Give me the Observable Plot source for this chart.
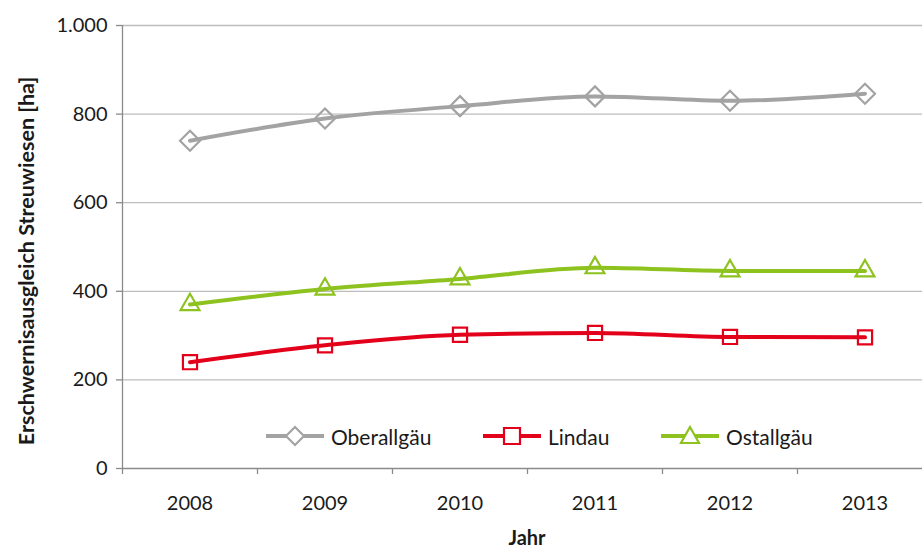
<!DOCTYPE html>
<html><head><meta charset="utf-8">
<script src="https://cdn.jsdelivr.net/npm/d3@7"></script>
<script src="https://cdn.jsdelivr.net/npm/@observablehq/plot@0.6"></script>
<style>
html,body{margin:0;padding:0;background:#fff;}
#wrap{position:relative;width:922px;height:548px;font-family:Lato, "Open Sans", sans-serif;color:#1a1a1a;overflow:hidden}
.ytitle{position:absolute;left:27px;top:261px;line-height:1;transform:translate(-50%,-50%) rotate(-90deg);white-space:nowrap;font-weight:700;font-size:21.5px;font-family:Lato, sans-serif;}
.xtitle{position:absolute;left:527px;top:537px;line-height:1;transform:translate(-50%,-50%);font-weight:700;font-size:20px;}
.litem{position:absolute;display:flex;align-items:center;white-space:nowrap;font-size:21px;line-height:1;transform:translateY(-50%)}
.litem svg{margin-right:7px}
</style></head><body><div id="wrap"></div>
<script>
const years = [2008, 2009, 2010, 2011, 2012, 2013];
const oberallgaeu = [740, 790, 818, 840, 830, 846];
const lindau = [240, 278, 302, 306, 297, 296];
const ostallgaeu = [370, 405, 428, 453, 446, 446];
const seriesNames = ["Oberallgäu", "Lindau", "Ostallgäu"];
const seriesValues = [oberallgaeu, lindau, ostallgaeu];
const seriesColors = ["#a3a3a3", "#e3001b", "#8dc21f"];
const seriesSymbols = ["diamond2", "square2", "triangle2"];
const yTicks = [0, 200, 400, 600, 800, 1000];

const data = seriesNames.flatMap((name, s) =>
  years.map((year, i) => ({year, value: seriesValues[s][i], series: name})));
const boundaries = [years[0] - 0.5, ...years.map(y => y + 0.5)];
const de = d3.formatLocale({decimal: ",", thousands: ".", grouping: [3], currency: ["", "€"]});
const fmt = de.format(",");

const chart = Plot.plot({
  width: 922, height: 548,
  marginLeft: 122, marginRight: -10, marginTop: 25, marginBottom: 80,
  style: {fontFamily: "Lato, 'Open Sans', sans-serif", fontSize: "20px", color: "#1a1a1a", background: "#fff"},
  x: {domain: [years[0] - 0.5, years[years.length - 1] + 0.5]},
  y: {domain: [0, 1000]},
  color: {domain: seriesNames, range: seriesColors},
  symbol: {domain: seriesNames, range: seriesSymbols},
  marks: [
    Plot.ruleY(yTicks.filter(d => d > 0), {stroke: "#bdbdbd", strokeWidth: 1.3}),
    Plot.ruleY([0], {stroke: "#8a8a8a", strokeWidth: 1.3}),
    Plot.ruleX([boundaries[0]], {stroke: "#8a8a8a", strokeWidth: 1.3}),
    Plot.axisY({ticks: yTicks, tickSize: 6, tickPadding: 9, tickFormat: fmt, stroke: "#8a8a8a", strokeWidth: 1.3, fill: "#1a1a1a", label: null, fontSize: 20}),
    Plot.axisX({ticks: boundaries, tickSize: 6, tickFormat: () => "", stroke: "#8a8a8a", strokeWidth: 1.3, label: null}),
    Plot.axisX({ticks: years, tickSize: 0, tickPadding: 27, tickFormat: d => String(d), fill: "#1a1a1a", label: null, fontSize: 20}),
    Plot.line(data, {x: "year", y: "value", z: "series", stroke: "series", strokeWidth: 4, curve: "monotone-x"}),
    Plot.dot(data, {x: "year", y: "value", symbol: "series", stroke: "series", fill: "none", r: 9, strokeWidth: 2.2})
  ]
});
const wrap = document.getElementById("wrap");
wrap.appendChild(chart);

const yt = document.createElement("div"); yt.className = "ytitle";
yt.textContent = "Erschwernisausgleich Streuwiesen [ha]"; wrap.appendChild(yt);
const xt = document.createElement("div"); xt.className = "xtitle"; xt.textContent = "Jahr"; wrap.appendChild(xt);

const legendLeft = [266, 483, 661];
const symPaths = {
  diamond2: "M0,-9L9,0L0,9L-9,0Z",
  square2: "M-8,-8H8V8H-8Z",
  triangle2: "M0,-9L9,7H-9Z"
};
seriesNames.forEach((name, i) => {
  const item = document.createElement("div");
  item.className = "litem";
  item.style.left = legendLeft[i] + "px";
  item.style.top = "436px";
  item.innerHTML = `<svg width="58" height="22" viewBox="-29 -11 58 22"><line x1="-29" x2="29" y1="0" y2="0" stroke="${seriesColors[i]}" stroke-width="4"/><path d="${symPaths[seriesSymbols[i]]}" fill="#fff" stroke="${seriesColors[i]}" stroke-width="2.2"/></svg><span>${name}</span>`;
  wrap.appendChild(item);
});
</script></body></html>
